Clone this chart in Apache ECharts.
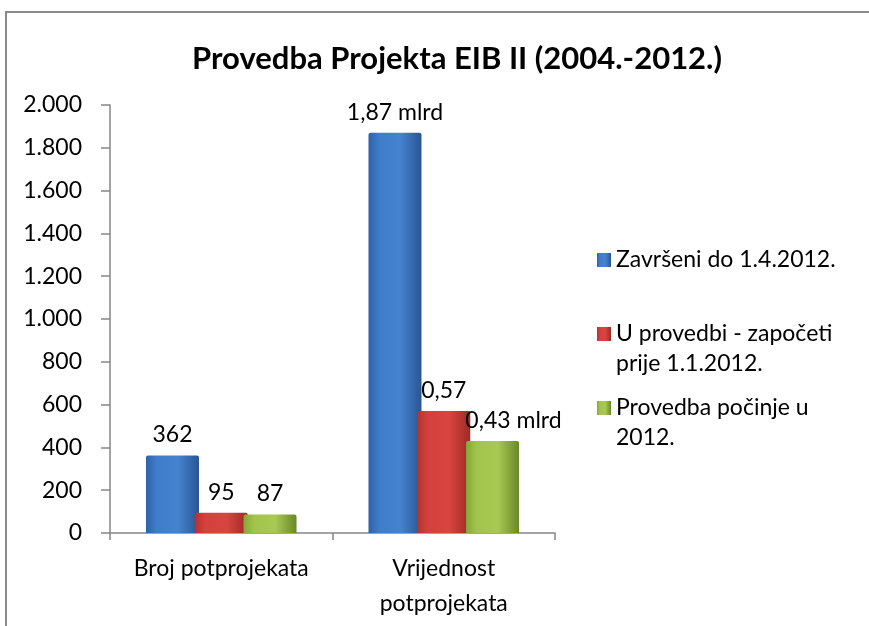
<!DOCTYPE html>
<html>
<head>
<meta charset="utf-8">
<title>Provedba Projekta EIB II</title>
<script src="https://cdn.jsdelivr.net/npm/echarts@6/dist/echarts.min.js"></script>
<style>
    html, body { margin: 0; padding: 0; background: #fff; }
    #main { width: 869px; height: 626px; }
</style>
</head>
<body>
<div id="main"></div>
<script>
// podaci
const categories = ['Broj potprojekata', 'Vrijednost\npotprojekata'];
const seriesNames = ['Završeni do 1.4.2012.', 'U provedbi - započeti\nprije 1.1.2012.', 'Provedba počinje u\n2012.'];
const zavrseni = [362, 1870];
const uProvedbi = [95, 570];
const pocinje = [87, 430];
const zavrseniLabels = ['362', '1,87 mlrd'];
const uProvedbiLabels = ['95', '0,57'];
const pocinjeLabels = ['87', '0,43 mlrd'];
const yTicks = [0, 200, 400, 600, 800, 1000, 1200, 1400, 1600, 1800, 2000];

const FONT = 'Lato';
const FS = 23;

const grad = (a, b, c, d) => new echarts.graphic.LinearGradient(0, 0, 1, 0, [
    { offset: 0, color: a },
    { offset: 0.2, color: b },
    { offset: 0.6, color: c },
    { offset: 1, color: d }
]);
const colors = [
    grad('#2f62a8', '#3f7cc9', '#4583d0', '#2a5591'),
    grad('#b3322e', '#d4413d', '#d8453f', '#9c2a26'),
    grad('#86a63a', '#a2c44c', '#a8c952', '#6a872a')
];

const makeData = (values, labels, shifts) => values.map((v, i) => ({
    value: v,
    label: { formatter: labels[i], offset: [shifts ? shifts[i] : 0, 0] }
}));

const barSeries = (name, values, labels, color, shifts) => ({
    name: name,
    type: 'bar',
    barWidth: 53,
    barGap: '-8%',
    data: makeData(values, labels, shifts),
    itemStyle: { color: color, borderRadius: [2, 2, 0, 0] },
    label: {
        show: true,
        position: 'top',
        distance: 9,
        fontFamily: FONT,
        fontSize: FS,
        color: '#000'
    }
});

// legenda: ikona uz prvi red teksta (prazan red iznad za višeredne)
const legendAt = (name, top, multi) => ({
    show: true,
    left: 597,
    top: top,
    padding: 0,
    itemWidth: 14,
    itemHeight: 14,
    itemGap: 0,
    icon: 'rect',
    data: [name],
    selectedMode: false,
    formatter: n => multi ? '\n' + n : n,
    textStyle: { fontFamily: FONT, fontSize: FS, color: '#000', lineHeight: 30 }
});

const myChart = echarts.init(document.getElementById('main'));
const option = {
    animation: false,
    graphic: [{
        type: 'rect',
        z: -10,
        shape: { x: 6, y: 12, width: 1000, height: 1000 },
        style: { fill: 'none', stroke: '#8a8a8a', lineWidth: 2 }
    }],
    title: {
        text: 'Provedba Projekta EIB II (2004.-2012.)',
        left: 452,
        top: 38,
        textAlign: 'center',
        textStyle: { fontFamily: FONT, fontSize: 31, fontWeight: 'bold', color: '#000' }
    },
    legend: [
        legendAt(seriesNames[0], 245, false),
        legendAt(seriesNames[1], 289, true),
        legendAt(seriesNames[2], 363, true)
    ],
    grid: { left: 110, right: 314, top: 105, bottom: 93 },
    xAxis: {
        type: 'category',
        data: categories,
        axisLine: { lineStyle: { color: '#868686', width: 1.5 } },
        axisTick: { show: true, length: 7, lineStyle: { color: '#868686', width: 1.5 } },
        axisLabel: { interval: 0, fontFamily: FONT, fontSize: FS, color: '#000', margin: 18, lineHeight: 35 }
    },
    yAxis: {
        type: 'value',
        min: yTicks[0],
        max: yTicks[yTicks.length - 1],
        interval: yTicks[1] - yTicks[0],
        splitLine: { show: false },
        axisLine: { show: true, lineStyle: { color: '#868686', width: 1.5 } },
        axisTick: { show: true, length: 9, lineStyle: { color: '#868686', width: 1.5 } },
        axisLabel: {
            fontFamily: FONT,
            fontSize: FS,
            color: '#000',
            margin: 28,
            formatter: v => String(v).replace(/\B(?=(\d{3})+(?!\d))/g, '.')
        }
    },
    series: [
        barSeries(seriesNames[0], zavrseni, zavrseniLabels, colors[0]),
        barSeries(seriesNames[1], uProvedbi, uProvedbiLabels, colors[1]),
        barSeries(seriesNames[2], pocinje, pocinjeLabels, colors[2], [0, 21])
    ]
};
myChart.setOption(option);
</script>
</body>
</html>
